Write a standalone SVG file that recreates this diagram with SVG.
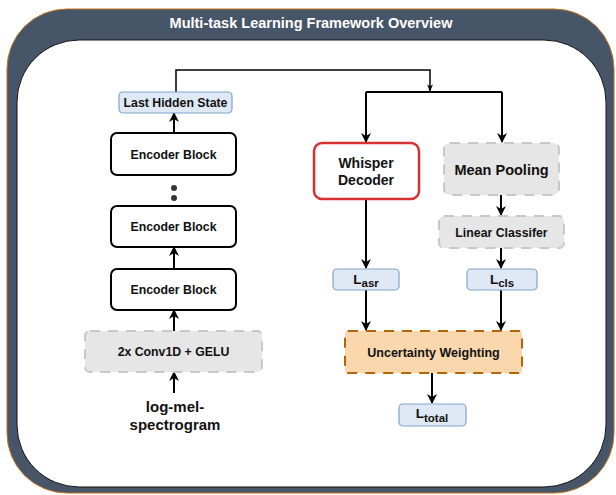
<svg xmlns="http://www.w3.org/2000/svg" width="616" height="495" viewBox="0 0 616 495">
<style>
text{font-family:"Liberation Sans",Arial,sans-serif;font-weight:bold;fill:#111;text-anchor:middle}
.enc{fill:#fff;stroke:#000;stroke-width:2}
.blue{fill:#dfe9f5;stroke:#7fa3cc;stroke-width:1.2}
.gray{fill:#e6e6e6;stroke:#c8c8c8;stroke-width:2;stroke-dasharray:10 8}
.edge{fill:none;stroke:#000;stroke-width:2}
.thin{fill:none;stroke:#000;stroke-width:1.5}
</style>
<defs>
<marker id="ah" viewBox="0 0 10 10" refX="9" refY="5" markerWidth="5" markerHeight="5" orient="auto" markerUnits="strokeWidth">
<path d="M0,0 L10,5 L0,10 L3,5 Z" fill="#000"/>
</marker>
<marker id="ahs" viewBox="0 0 10 10" refX="9" refY="5" markerWidth="5" markerHeight="5" orient="auto" markerUnits="strokeWidth">
<path d="M0,1 L10,5 L0,9 L3,5 Z" fill="#000"/>
</marker>
</defs>
<g id="frame">
<rect x="7" y="9" width="607" height="484" rx="60" fill="#475569" stroke="#c0741c" stroke-width="1"/>
<rect x="17" y="40" width="589" height="447" rx="62" fill="#fff" stroke="#111" stroke-width="1"/>
<text x="311" y="28" font-size="14.5" style="fill:#fff">Multi-task Learning Framework Overview</text>
</g>
<g id="connectors">
<path class="thin" d="M176,92 V70 H430 V91" marker-end="url(#ahs)"/>
<path class="edge" d="M366,92 H502"/>
<path class="edge" d="M366,92 V142" marker-end="url(#ah)"/>
<path class="edge" d="M502,92 V142" marker-end="url(#ah)"/>
<path class="edge" d="M501,195 V215" marker-end="url(#ah)"/>
<path class="edge" d="M501,248 V268" marker-end="url(#ah)"/>
<path class="edge" d="M366,199 V268" marker-end="url(#ah)"/>
<path class="edge" d="M366,290 V330" marker-end="url(#ah)"/>
<path class="edge" d="M501,290 V330" marker-end="url(#ah)"/>
<path class="edge" d="M432,373 V403" marker-end="url(#ah)"/>
<path class="edge" d="M174,133 V113" marker-end="url(#ah)"/>
<path class="edge" d="M174,269 V247" marker-end="url(#ah)"/>
<path class="edge" d="M174,331 V310" marker-end="url(#ah)"/>
<path class="edge" d="M174,393 V372" marker-end="url(#ah)"/>
</g>
<g id="last-hidden-state">
<rect class="blue" x="119" y="92" width="113" height="21" rx="4"/>
<text x="175.5" y="107" font-size="12.3">Last Hidden State</text>
</g>
<g id="encoder-block-1">
<rect class="enc" x="111" y="133" width="125" height="42" rx="6"/>
<text x="173.5" y="158.5" font-size="12.3">Encoder Block</text>
</g>
<g id="dots">
<circle cx="174" cy="188" r="3" fill="#333"/>
<circle cx="174" cy="198" r="3" fill="#333"/>
</g>
<g id="encoder-block-2">
<rect class="enc" x="111" y="206" width="125" height="41" rx="6"/>
<text x="173.5" y="231" font-size="12.3">Encoder Block</text>
</g>
<g id="encoder-block-3">
<rect class="enc" x="111" y="269" width="125" height="41" rx="6"/>
<text x="173.5" y="294" font-size="12.3">Encoder Block</text>
</g>
<g id="conv">
<rect class="gray" x="85" y="331" width="177" height="41" rx="5"/>
<text x="173.5" y="356" font-size="12.3">2x Conv1D + GELU</text>
</g>
<g id="log-mel">
<text x="175" y="412" font-size="15">log-mel-</text>
<text x="175" y="430" font-size="15">spectrogram</text>
</g>
<g id="whisper-decoder">
<rect x="314" y="143" width="105" height="56" rx="8" fill="#fff" stroke="#d63030" stroke-width="2.5"/>
<text x="366" y="168" font-size="14">Whisper</text>
<text x="366" y="185" font-size="14">Decoder</text>
</g>
<g id="mean-pooling">
<rect class="gray" x="444" y="143" width="115" height="52" rx="6"/>
<text x="501.5" y="175" font-size="14.5">Mean Pooling</text>
</g>
<g id="linear-classifier">
<rect class="gray" x="439" y="216" width="125" height="32" rx="5"/>
<text x="501.5" y="236.5" font-size="12.3">Linear Classifer</text>
</g>
<g id="l-asr">
<rect class="blue" x="333" y="269" width="66" height="21" rx="4"/>
<text x="366" y="284" font-size="13.5">L<tspan font-size="11.5" dy="3">asr</tspan></text>
</g>
<g id="l-cls">
<rect class="blue" x="467" y="269" width="70" height="21" rx="4"/>
<text x="502" y="284" font-size="13.5">L<tspan font-size="11.5" dy="3">cls</tspan></text>
</g>
<g id="uncertainty-weighting">
<rect x="345" y="331" width="177" height="42" rx="3" fill="#fad7ac" stroke="#b46504" stroke-width="2" stroke-dasharray="10 8"/>
<text x="433.5" y="356.5" font-size="12.5">Uncertainty Weighting</text>
</g>
<g id="l-total">
<rect class="blue" x="399" y="404" width="67" height="22" rx="4"/>
<text x="432" y="418" font-size="13.5">L<tspan font-size="11.5" dy="4">total</tspan></text>
</g>
</svg>
